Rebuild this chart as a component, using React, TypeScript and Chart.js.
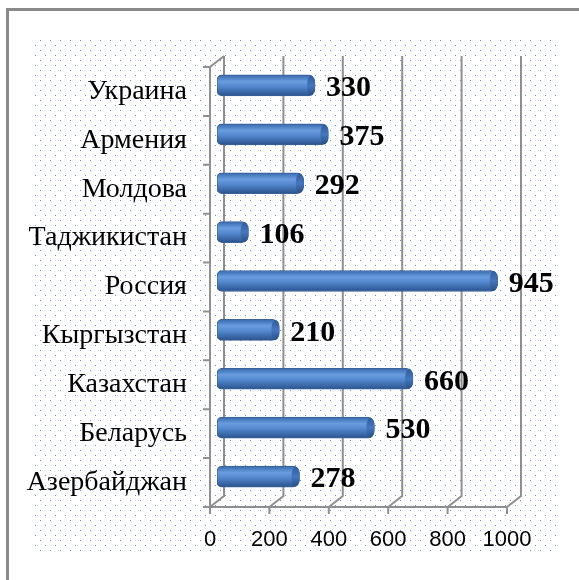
import { useEffect, useRef } from 'react';
import { Chart, registerables } from 'chart.js';
Chart.register(...registerables);

const categories = ['Украина', 'Армения', 'Молдова', 'Таджикистан', 'Россия', 'Кыргызстан', 'Казахстан', 'Беларусь', 'Азербайджан'];
const values = [330, 375, 292, 106, 945, 210, 660, 530, 278];
const xTicks = [0, 200, 400, 600, 800, 1000];

const DX = 14, DY = -11; // depth of back wall
const BX = 7, BY = -6; // bars at mid depth
const gridColor = '#8f8f8f';

const decor = {
  id: 'decor',
  beforeDraw(chart: any) {
    const ctx = chart.ctx;
    ctx.save();
    ctx.fillStyle = '#fff';
    ctx.fillRect(0, 0, chart.width, chart.height);
    const tile = document.createElement('canvas');
    tile.width = 10; tile.height = 10;
    const t = tile.getContext('2d')!;
    t.fillStyle = 'rgba(70,120,200,0.85)';
    t.fillRect(0, 0, 1, 1);
    t.fillRect(5, 5, 1, 1);
    const pat = ctx.createPattern(tile, 'repeat');
    ctx.fillStyle = pat;
    ctx.fillRect(33, 38, 523, 515);
    ctx.strokeStyle = '#8a8a8a';
    ctx.lineWidth = 3;
    ctx.beginPath();
    ctx.moveTo(7.5, 580); ctx.lineTo(7.5, 9.5); ctx.lineTo(579, 9.5);
    ctx.stroke();
    ctx.restore();
  },
  beforeDatasetsDraw(chart: any) {
    const { ctx, chartArea: { left, right, top, bottom }, scales: { x } } = chart;
    ctx.save();
    ctx.strokeStyle = gridColor;
    ctx.lineWidth = 2;
    ctx.beginPath();
    xTicks.forEach((v) => {
      const px = x.getPixelForValue(v);
      ctx.moveTo(px + DX, top + DY);
      ctx.lineTo(px + DX, bottom + DY);
      ctx.lineTo(px, bottom);
    });
    ctx.moveTo(left, bottom); ctx.lineTo(right, bottom);
    xTicks.forEach((v) => {
      const px = x.getPixelForValue(v);
      ctx.moveTo(px, bottom); ctx.lineTo(px, bottom + 7);
    });
    ctx.moveTo(left, bottom); ctx.lineTo(left, top); ctx.lineTo(left + DX, top + DY);
    const n = categories.length;
    for (let i = 0; i <= n; i++) {
      const py = top + ((bottom - top) * i) / n;
      ctx.moveTo(left - 7, py); ctx.lineTo(left, py);
    }
    ctx.stroke();
    ctx.translate(BX, BY);
  },
  afterDatasetsDraw(chart: any) {
    const ctx = chart.ctx;
    const meta = chart.getDatasetMeta(0);
    meta.data.forEach((el: any) => {
      const g = ctx.createLinearGradient(0, el.y - 10, 0, el.y + 10);
      g.addColorStop(0, '#2f5c9a');
      g.addColorStop(0.5, '#4677bd');
      g.addColorStop(1, '#284f86');
      ctx.fillStyle = g;
      ctx.beginPath();
      ctx.ellipse(el.x - 4, el.y, 4, 10, 0, 0, Math.PI * 2);
      ctx.fill();
    });
    ctx.restore();
    ctx.save();
    ctx.fillStyle = '#000';
    ctx.font = 'bold 30px "Liberation Serif"';
    ctx.textAlign = 'left';
    ctx.textBaseline = 'middle';
    meta.data.forEach((el: any, i: number) => {
      ctx.fillText(String(values[i]), el.x + BX + 11, el.y + BY + 3);
    });
    ctx.restore();
  },
};

export default function App() {
  const ref = useRef<HTMLCanvasElement>(null);
  useEffect(() => {
    const chart = new Chart(ref.current!, {
      type: 'bar',
      data: {
        labels: categories,
        datasets: [{
          data: values,
          barThickness: 21,
          borderRadius: { topLeft: 5, bottomLeft: 5, topRight: 7, bottomRight: 7 },
          borderSkipped: false,
          borderWidth: 1,
          borderColor: '#3a6298',
          backgroundColor: (c: any) => {
            const chart = c.chart;
            if (!chart.chartArea || c.type !== 'data') return '#4f81bd';
            const yc = chart.scales.y.getPixelForValue(c.dataIndex);
            const g = chart.ctx.createLinearGradient(0, yc - 10, 0, yc + 10);
            g.addColorStop(0, '#3a6cb0');
            g.addColorStop(0.3, '#6a9de0');
            g.addColorStop(0.55, '#5488cf');
            g.addColorStop(1, '#2c5590');
            return g;
          },
        }],
      },
      options: {
        indexAxis: 'y',
        animation: false,
        responsive: false,
        devicePixelRatio: 1,
        layout: { padding: { top: 67, right: 72, left: 0, bottom: 0 } },
        plugins: { legend: { display: false }, tooltip: { enabled: false } },
        scales: {
          x: {
            min: 0, max: 1000,
            ticks: {
              stepSize: 200, color: '#000', font: { family: '"Liberation Sans"', size: 22 }, padding: 20, maxRotation: 0,
              callback: (v: any) => String(v),
            },
            grid: { display: false, drawTicks: false },
            border: { display: false },
            afterFit: (s: any) => { s.height = 73; },
          },
          y: {
            ticks: { color: '#000', font: { family: '"Liberation Serif"', size: 28 }, padding: 23 },
            grid: { display: false, drawTicks: false },
            border: { display: false },
            afterFit: (s: any) => { s.width = 210; },
          },
        },
      },
      plugins: [decor],
    } as any);
    return () => chart.destroy();
  }, []);
  return (
    <div style={{ position: 'fixed', left: 0, top: 0, width: 579, height: 580 }}>
      <canvas ref={ref} width={579} height={580} />
    </div>
  );
}
